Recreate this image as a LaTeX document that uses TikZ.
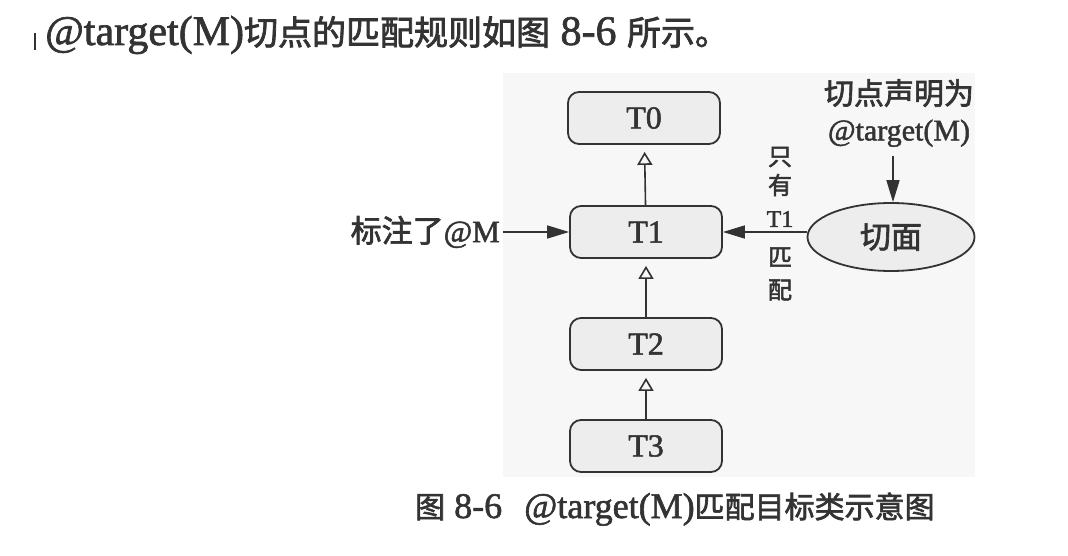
\documentclass[tikz,border=0pt]{standalone}
\usepackage{fontspec}
\setmainfont{Liberation Serif}[FakeBold=1.6]
\newfontfamily\cjk{Noto Sans CJK SC}[FakeBold=2.2]
\usetikzlibrary{arrows.meta,shapes.geometric}
\definecolor{ink}{HTML}{333333}
\definecolor{panel}{HTML}{F7F7F7}
\definecolor{boxfill}{HTML}{EDEDED}
\newcommand\fs[1]{\fontsize{#1}{#1}\selectfont}
\tikzset{
  typebox/.style={draw=ink, line width=1.8pt, fill=boxfill, rounded corners=11pt,
    minimum width=152pt, minimum height=52pt, inner sep=0pt, text=ink, font=\fs{32}},
  aspectnode/.style={ellipse, draw=ink, line width=1.8pt, fill=boxfill,
    minimum width=167pt, minimum height=68pt, inner sep=0pt, text=ink},
  lbl/.style={inner sep=0pt, text=ink},
  vlbl/.style={lbl, font=\fs{24}},
  inherit/.style={draw=ink, line width=1.6pt, shorten >=7pt,
    -{Triangle[open, length=13pt, width=15pt, line width=1.6pt]}},
  points/.style={draw=ink, line width=1.6pt, -{Triangle[length=22pt, width=13pt]}},
}
\begin{document}
\begin{tikzpicture}[x=1pt, y=-1pt]
  \useasboundingbox (0,0) rectangle (1068,556);
  \fill[white] (0,0) rectangle (1068,556);
  % shaded figure area
  \fill[panel] (503,73) rectangle (975,477);
  % text cursor mark
  \draw[ink, line width=2pt] (35,33) -- (35,50);

  % heading sentence
  \node[lbl, anchor=base west] (intro) at (45,45)
    {\fs{42}@target(M){\cjk\fs{34}切点的匹配规则如图} 8-6 {\cjk\fs{34}所示。}};

  % type hierarchy
  \node[typebox] (T0) at (644,118) {T0};
  \node[typebox] (T1) at (646,232) {T1};
  \node[typebox] (T2) at (646,344) {T2};
  \node[typebox] (T3) at (646,446) {T3};
  \draw[inherit] (T1) -- (T0);
  \draw[inherit] (T2) -- (T1);
  \draw[inherit] (T3) -- (T2);

  % annotation marker on T1
  \node[lbl, anchor=east] (anno) at (500,232)
    {{\cjk\fs{31}标注了}\fs{31}@M};
  \draw[points] (anno.east) ++(3,0) -- (T1.west);

  % aspect and its pointcut
  \node[aspectnode] (aspect) at (891,237) {\cjk\fs{31}切面};
  \node[lbl, align=center, font=\fontsize{30}{36}\selectfont] (decl) at (899,113)
    {{\cjk 切点声明为}\\@target(M)};
  \coordinate (declfoot) at (893,156);
  \draw[points] (declfoot) -- (aspect.north -| declfoot);
  \draw[points] (aspect.west |- T1) -- (T1.east);

  % vertical note on the matching arrow
  \node[vlbl] (v1) at (780,157) {\cjk 只};
  \node[vlbl] (v2) at (780,185) {\cjk 有};
  \node[vlbl] (v3) at (780,219) {T1};
  \node[vlbl] (v4) at (780,257) {\cjk 匹};
  \node[vlbl] (v5) at (780,290) {\cjk 配};

  % caption
  \node[lbl, anchor=base west] (caption) at (415,518)
    {\fs{36}{\cjk\fs{30}图} 8-6\hspace{22pt}@target(M){\cjk\fs{30}匹配目标类示意图}};
\end{tikzpicture}
\end{document}
